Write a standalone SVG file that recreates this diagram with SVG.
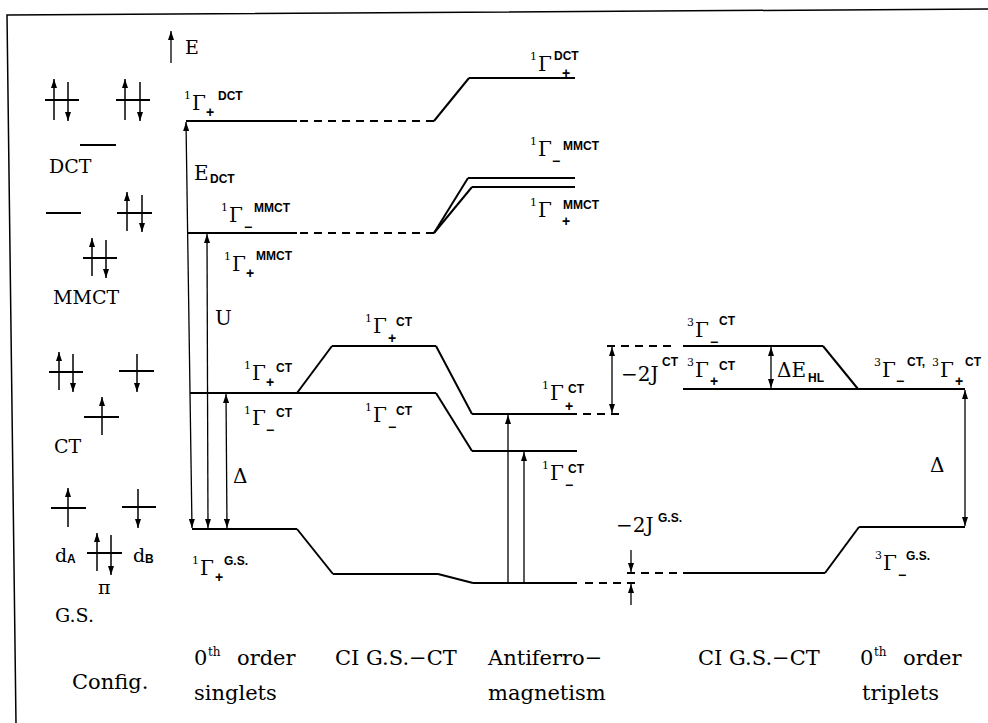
<svg xmlns="http://www.w3.org/2000/svg" width="988" height="723" viewBox="0 0 988 723">
<style>
.lv{stroke:#000;stroke-width:2;fill:none;stroke-linecap:butt}
.ds{stroke:#000;stroke-width:2;stroke-dasharray:8 6;fill:none}
.ara{stroke:#000;stroke-width:1.3;fill:none;marker-end:url(#ah)}
.arb{stroke:#000;stroke-width:1.3;fill:none;marker-end:url(#ah);marker-start:url(#ah)}
.sp1{stroke:#000;stroke-width:1.5;fill:none;marker-end:url(#sh)}
.frame{stroke:#000;stroke-width:1.5;fill:none}
text{fill:#000}
.t{font-family:"DejaVu Serif",serif;font-size:21px}
.c{font-family:"DejaVu Serif",serif;font-size:19px}
.g{font-family:"DejaVu Serif",serif;font-size:20px}
.pre{font-size:11px}
.sb{font-family:"Liberation Sans",sans-serif;font-weight:bold;font-size:14px}
.sp{font-family:"Liberation Sans",sans-serif;font-weight:bold;font-size:12px}
.su{font-size:12px}
</style>
<defs>
<marker id="ah" viewBox="0 0 9 6" refX="9" refY="3" markerWidth="9" markerHeight="6" orient="auto-start-reverse" markerUnits="userSpaceOnUse"><path d="M0,0 L9,3 L0,6 z" fill="#000"/></marker>
<marker id="sh" viewBox="0 0 9 6" refX="9" refY="3" markerWidth="9" markerHeight="6" orient="auto" markerUnits="userSpaceOnUse"><path d="M0,0 L9,3 L0,6 z" fill="#000"/></marker>
</defs>
<rect width="988" height="723" fill="#fff"/>
<path class="frame" d="M16,723 L7,15 L988,9"/>

<g id="axis">
<line class="ara" x1="171" y1="63" x2="171" y2="31"/>
<text class="c" x="185" y="54">E</text>
</g>

<g id="config-dct">
<line class="lv" x1="45" y1="100" x2="79" y2="100"/>
<line class="sp1" x1="54" y1="120" x2="54" y2="79"/>
<line class="sp1" x1="68" y1="82" x2="68" y2="121"/>
<line class="lv" x1="116" y1="100" x2="150" y2="100"/>
<line class="sp1" x1="125" y1="120" x2="125" y2="79"/>
<line class="sp1" x1="140" y1="82" x2="140" y2="121"/>
<line class="lv" x1="80" y1="145" x2="116" y2="145"/>
<text class="c" x="49" y="173">DCT</text>
</g>
<g id="config-mmct">
<line class="lv" x1="46" y1="213" x2="81" y2="213"/>
<line class="lv" x1="117" y1="213" x2="152" y2="213"/>
<line class="sp1" x1="127" y1="231" x2="127" y2="192"/>
<line class="sp1" x1="142" y1="195" x2="142" y2="232"/>
<line class="lv" x1="83" y1="258" x2="117" y2="258"/>
<line class="sp1" x1="92" y1="276" x2="92" y2="238"/>
<line class="sp1" x1="106" y1="240" x2="106" y2="278"/>
<text class="c" x="53" y="304">MMCT</text>
</g>
<g id="config-ct">
<line class="lv" x1="49" y1="372" x2="83" y2="372"/>
<line class="sp1" x1="59" y1="390" x2="59" y2="352"/>
<line class="sp1" x1="73" y1="354" x2="73" y2="392"/>
<line class="lv" x1="119" y1="371" x2="154" y2="371"/>
<line class="sp1" x1="137" y1="354" x2="137" y2="392"/>
<line class="lv" x1="84" y1="417" x2="119" y2="417"/>
<line class="sp1" x1="102" y1="435" x2="102" y2="397"/>
<text class="c" x="54" y="453">CT</text>
</g>
<g id="config-gs">
<line class="lv" x1="51" y1="508" x2="86" y2="508"/>
<line class="sp1" x1="68" y1="527" x2="68" y2="488"/>
<line class="lv" x1="122" y1="507" x2="156" y2="507"/>
<line class="sp1" x1="138" y1="489" x2="138" y2="528"/>
<line class="lv" x1="87" y1="553" x2="122" y2="553"/>
<line class="sp1" x1="97" y1="571" x2="97" y2="533"/>
<line class="sp1" x1="111" y1="535" x2="111" y2="575"/>
<text class="c" x="55" y="562">d<tspan class="sp" font-size="11" x="67" y="563">A</tspan></text>
<text class="c" x="133" y="562">d<tspan class="sp" font-size="11" x="145" y="563">B</tspan></text>
<text class="c" x="98" y="594">π</text>
<text class="c" x="55" y="622">G.S.</text>
</g>

<g id="s-dct">
<line class="lv" x1="186" y1="121" x2="297" y2="121"/>
<text class="g"><tspan class="pre" x="184" y="99">1</tspan><tspan x="192" y="110">Γ</tspan><tspan class="sb" x="206" y="117">+</tspan><tspan class="sp" x="218" y="100">DCT</tspan></text>
</g>
<g id="s-mmct">
<line class="lv" x1="188" y1="233" x2="297" y2="233"/>
<text class="g"><tspan class="pre" x="221" y="211">1</tspan><tspan x="229" y="222">Γ</tspan><tspan class="sb" x="244" y="232">−</tspan><tspan class="sp" x="254" y="212">MMCT</tspan></text>
<text class="g"><tspan class="pre" x="224" y="260">1</tspan><tspan x="232" y="271">Γ</tspan><tspan class="sb" x="246" y="278">+</tspan><tspan class="sp" x="256" y="260">MMCT</tspan></text>
</g>
<g id="s-ct">
<line class="lv" x1="190" y1="393" x2="297" y2="393"/>
<text class="g"><tspan class="pre" x="244" y="369">1</tspan><tspan x="252" y="380">Γ</tspan><tspan class="sb" x="266" y="387">+</tspan><tspan class="sp" x="276" y="372">CT</tspan></text>
<text class="g"><tspan class="pre" x="244" y="414">1</tspan><tspan x="252" y="425">Γ</tspan><tspan class="sb" x="266" y="435">−</tspan><tspan class="sp" x="276" y="417">CT</tspan></text>
</g>
<g id="s-gs">
<line class="lv" x1="192" y1="529" x2="297" y2="529"/>
<text class="g"><tspan class="pre" x="192" y="564">1</tspan><tspan x="200" y="575">Γ</tspan><tspan class="sb" x="215" y="582">+</tspan><tspan class="sp" x="224" y="565">G.S.</tspan></text>
</g>
<g id="ci-ctp">
<line class="lv" x1="332" y1="346" x2="436" y2="346"/>
<text class="g"><tspan class="pre" x="365" y="322">1</tspan><tspan x="373" y="333">Γ</tspan><tspan class="sb" x="388" y="343">+</tspan><tspan class="sp" x="396" y="326">CT</tspan></text>
</g>
<g id="ci-ctm">
<line class="lv" x1="297" y1="393" x2="436" y2="393"/>
<text class="g"><tspan class="pre" x="365" y="411">1</tspan><tspan x="373" y="422">Γ</tspan><tspan class="sb" x="388" y="432">−</tspan><tspan class="sp" x="396" y="415">CT</tspan></text>
</g>
<g id="ci-gs">
<line class="lv" x1="333" y1="574" x2="438" y2="574"/>
</g>
<g id="r-dct">
<line class="lv" x1="469" y1="78" x2="575" y2="78"/>
<text class="g"><tspan class="pre" x="530" y="60">1</tspan><tspan x="538" y="71">Γ</tspan><tspan class="sb" x="562" y="78">+</tspan><tspan class="sp" x="554" y="60">DCT</tspan></text>
</g>
<g id="r-mmctm">
<line class="lv" x1="468" y1="178" x2="575" y2="178"/>
<text class="g"><tspan class="pre" x="530" y="145">1</tspan><tspan x="538" y="156">Γ</tspan><tspan class="sb" x="552" y="166">−</tspan><tspan class="sp" x="563" y="150">MMCT</tspan></text>
</g>
<g id="r-mmctp">
<line class="lv" x1="472" y1="187" x2="575" y2="187"/>
<text class="g"><tspan class="pre" x="530" y="206">1</tspan><tspan x="538" y="217">Γ</tspan><tspan class="sb" x="562" y="226">+</tspan><tspan class="sp" x="563" y="209">MMCT</tspan></text>
</g>
<g id="af-ctp">
<line class="lv" x1="472" y1="414" x2="577" y2="414"/>
<text class="g"><tspan class="pre" x="542" y="389">1</tspan><tspan x="550" y="400">Γ</tspan><tspan class="sb" x="565" y="411">+</tspan><tspan class="sp" x="568" y="393">CT</tspan></text>
</g>
<g id="af-ctm">
<line class="lv" x1="472" y1="451" x2="577" y2="451"/>
<text class="g"><tspan class="pre" x="542" y="469">1</tspan><tspan x="550" y="480">Γ</tspan><tspan class="sb" x="565" y="490">−</tspan><tspan class="sp" x="568" y="473">CT</tspan></text>
</g>
<g id="af-gs">
<line class="lv" x1="473" y1="583" x2="577" y2="583"/>
</g>
<g id="tci-ctm">
<line class="lv" x1="683" y1="346" x2="823" y2="346"/>
<text class="g"><tspan class="pre" x="687" y="326">3</tspan><tspan x="695" y="337">Γ</tspan><tspan class="sb" x="710" y="347">−</tspan><tspan class="sp" x="719" y="325">CT</tspan></text>
</g>
<g id="tci-ctp">
<line class="lv" x1="683" y1="389" x2="858" y2="389"/>
<text class="g"><tspan class="pre" x="687" y="366">3</tspan><tspan x="695" y="377">Γ</tspan><tspan class="sb" x="710" y="386">+</tspan><tspan class="sp" x="719" y="370">CT</tspan></text>
</g>
<g id="tci-gs">
<line class="lv" x1="683" y1="573" x2="825" y2="573"/>
</g>
<g id="t-ct">
<line class="lv" x1="858" y1="389" x2="965" y2="389"/>
<text class="g"><tspan class="pre" x="874" y="366">3</tspan><tspan x="882" y="377">Γ</tspan><tspan class="sb" x="896" y="386">−</tspan><tspan class="sp" x="907" y="366">CT,</tspan><tspan class="pre" x="932" y="366">3</tspan><tspan x="940" y="377">Γ</tspan><tspan class="sb" x="955" y="386">+</tspan><tspan class="sp" x="965" y="366">CT</tspan></text>
</g>
<g id="t-gs">
<line class="lv" x1="859" y1="527" x2="965" y2="527"/>
<text class="g"><tspan class="pre" x="875" y="559">3</tspan><tspan x="883" y="570">Γ</tspan><tspan class="sb" x="898" y="580">−</tspan><tspan class="sp" x="906" y="560">G.S.</tspan></text>
</g>

<g id="connectors">
<line class="ds" x1="300" y1="121" x2="434" y2="121"/>
<line class="ds" x1="300" y1="233" x2="434" y2="233"/>
<line class="ds" x1="583" y1="414" x2="621" y2="414"/>
<line class="ds" x1="607" y1="346" x2="677" y2="346"/>
<line class="ds" x1="585" y1="583" x2="640" y2="583"/>
<line class="ds" x1="627" y1="573" x2="680" y2="573"/>
<line class="lv" x1="434" y1="121" x2="469" y2="78"/>
<line class="lv" x1="434" y1="233" x2="468" y2="178"/>
<line class="lv" x1="434" y1="233" x2="472" y2="187"/>
<line class="lv" x1="297" y1="393" x2="332" y2="346"/>
<line class="lv" x1="436" y1="346" x2="472" y2="414"/>
<line class="lv" x1="436" y1="393" x2="472" y2="451"/>
<line class="lv" x1="297" y1="529" x2="333" y2="574"/>
<line class="lv" x1="438" y1="574" x2="473" y2="583"/>
<line class="lv" x1="823" y1="346" x2="858" y2="389"/>
<line class="lv" x1="825" y1="573" x2="859" y2="527"/>
<line class="arb" x1="186" y1="122" x2="192" y2="528"/>
<line class="arb" x1="207" y1="234" x2="208" y2="528"/>
<line class="arb" x1="226" y1="394" x2="227" y2="528"/>
<line class="ara" x1="508" y1="582" x2="508" y2="415"/>
<line class="ara" x1="524" y1="582" x2="524" y2="452"/>
<line class="arb" x1="612" y1="347" x2="612" y2="413"/>
<line class="ara" x1="631" y1="550" x2="631" y2="572"/>
<line class="ara" x1="631" y1="605" x2="631" y2="584"/>
<line class="arb" x1="771" y1="347" x2="771" y2="388"/>
<line class="arb" x1="965" y1="390" x2="965" y2="526"/>
</g>

<g id="quantities">
<text class="g" x="194" y="180">E<tspan class="sp" x="210" y="183">DCT</tspan></text>
<text class="g" font-size="22" x="215" y="325">U</text>
<text class="g" x="233" y="483">Δ</text>
<text class="g" x="621" y="381">−2J<tspan class="sp" x="662" y="366">CT</tspan></text>
<text class="g" x="616" y="532">−2J<tspan class="sp" x="658" y="522">G.S.</tspan></text>
<text class="g" x="777" y="377">ΔE<tspan class="sp" x="808" y="382">HL</tspan></text>
<text class="g" x="930" y="472">Δ</text>
</g>

<g id="titles">
<text class="t" x="72" y="689">Config.</text>
<text class="t" x="194" y="665">0<tspan class="su" x="208" y="656">th</tspan><tspan x="237" y="665">order</tspan></text>
<text class="t" x="194" y="700">singlets</text>
<text class="t" x="335" y="665">CI G.S.−CT</text>
<text class="t" x="488" y="665">Antiferro−</text>
<text class="t" x="488" y="700">magnetism</text>
<text class="t" x="698" y="665">CI G.S.−CT</text>
<text class="t" x="860" y="665">0<tspan class="su" x="874" y="656">th</tspan><tspan x="903" y="665">order</tspan></text>
<text class="t" x="862" y="700">triplets</text>
</g>
</svg>
